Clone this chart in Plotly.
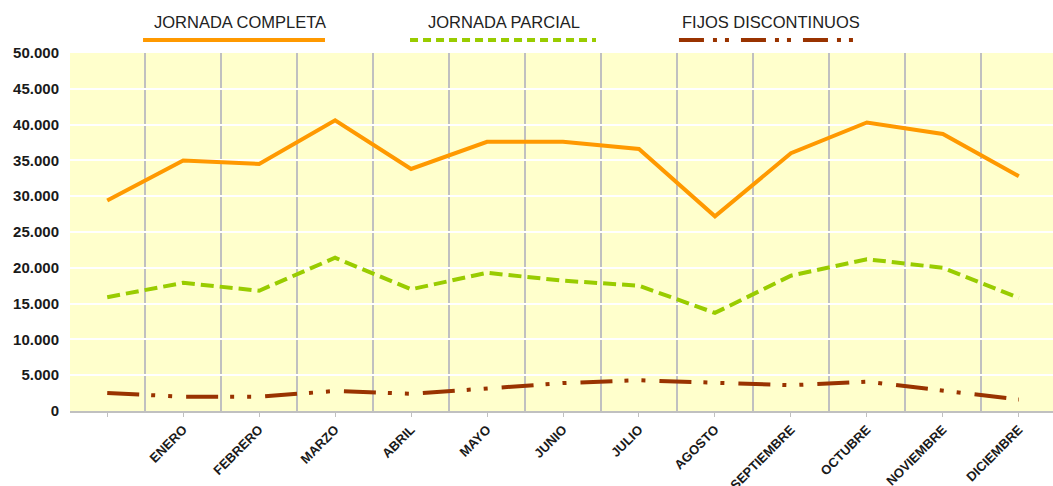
import plotly.graph_objects as go

# Category labels (first category has no label in the original)
months = ["", "ENERO", "FEBRERO", "MARZO", "ABRIL", "MAYO", "JUNIO", "JULIO",
          "AGOSTO", "SEPTIEMBRE", "OCTUBRE", "NOVIEMBRE", "DICIEMBRE"]

jornada_completa = [29400, 35000, 34500, 40600, 33800, 37600, 37600, 36600,
                    27200, 36000, 40300, 38700, 32800]
jornada_parcial = [15900, 17900, 16800, 21400, 17000, 19300, 18200, 17500,
                   13700, 18900, 21200, 20000, 15800]
fijos_discontinuos = [2500, 2000, 2000, 2800, 2400, 3200, 3900, 4300,
                      3900, 3600, 4100, 2900, 1600]

series_names = ["JORNADA COMPLETA", "JORNADA PARCIAL", "FIJOS DISCONTINUOS"]
colors = ["#FF9900", "#99CC00", "#993300"]

x = list(range(len(months)))

fig = go.Figure()
fig.add_trace(go.Scatter(x=x, y=jornada_completa, mode="lines", name=series_names[0],
                         line=dict(color=colors[0], width=4)))
fig.add_trace(go.Scatter(x=x, y=jornada_parcial, mode="lines", name=series_names[1],
                         line=dict(color=colors[1], width=4, dash="13px,6px")))
fig.add_trace(go.Scatter(x=x, y=fijos_discontinuos, mode="lines", name=series_names[2],
                         line=dict(color=colors[2], width=4,
                                   dash="32px,12px,4px,13px,4px,14px")))

# Custom legend: text above a long sample line
legend_text_x = [0.1729, 0.4415, 0.7131]
legend_line_x = [(0.0743, 0.2594), (0.3459, 0.5351), (0.6195, 0.7986)]
legend_dash = ["solid", "8px,5px", "25px,9px,4px,8px,4px,12px"]
for name, tx, (x0, x1), c, d in zip(series_names, legend_text_x, legend_line_x, colors, legend_dash):
    fig.add_annotation(x=tx, y=1.0866, xref="paper", yref="paper", text=name,
                       showarrow=False, xanchor="center", yanchor="middle",
                       font=dict(family="Liberation Sans", size=16.5, color="#222222"))
    fig.add_shape(type="line", xref="paper", yref="paper", x0=x0, x1=x1,
                  y0=1.0363, y1=1.0363, line=dict(color=c, width=4, dash=d))

fig.update_layout(
    width=1053, height=486,
    margin=dict(l=70, r=0, t=53, b=75, autoexpand=False),
    paper_bgcolor="white",
    plot_bgcolor="#FFFFCC",
    showlegend=False,
    separators=",.",
    font=dict(family="Liberation Sans", color="#1a1a1a"),
)
fig.update_xaxes(
    automargin=False,
    range=[-0.49, 12.45],
    tickmode="array", tickvals=x, ticktext=[f"<b>{m}</b>" if m else "" for m in months],
    tickangle=-45,
    tickfont=dict(family="Liberation Sans", size=13, color="#1a1a1a"),
    showgrid=False, zeroline=False,
    showline=True, linecolor="#C0C0C0", linewidth=2,
    ticks="outside", ticklen=4, tickcolor="#C0C0C0", tickwidth=1,
    minor=dict(tickmode="array", tickvals=[i + 0.5 for i in range(12)],
               showgrid=True, gridcolor="#C0C0C0", gridwidth=2, ticks=""),
)
fig.update_yaxes(
    automargin=False,
    range=[0, 50000], dtick=5000, tickformat=",d",
    tickfont=dict(family="Liberation Sans", size=15, color="#1a1a1a", weight="bold"),
    showgrid=True, gridcolor="white", gridwidth=2,
    zeroline=False, showline=False,
    ticklabelstandoff=10,
)

fig.write_html("out.html", config={"displayModeBar": False},
               post_script="document.body.style.margin='0';document.body.style.overflow='hidden';")
